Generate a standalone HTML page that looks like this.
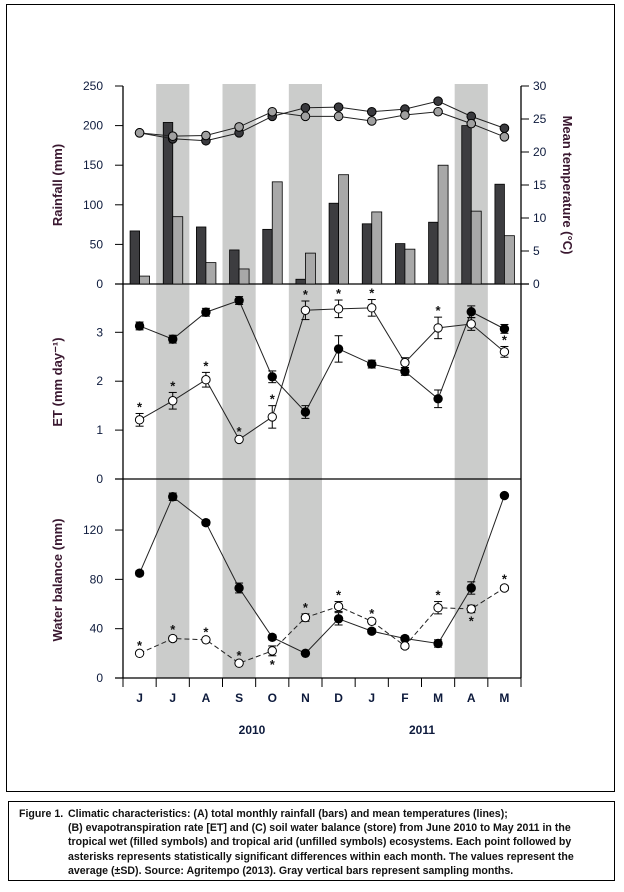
<!DOCTYPE html>
<html><head><meta charset="utf-8">
<style>
body{margin:0;background:#fff;width:624px;height:892px;overflow:hidden;font-family:"Liberation Sans Narrow","Liberation Sans",sans-serif;}
#frame{position:absolute;left:6px;top:4px;width:609px;height:788px;border:1.5px solid #000;box-sizing:border-box;}
#caption{position:absolute;left:8px;top:801px;width:607px;height:80px;border:1.5px solid #000;box-sizing:border-box;font-weight:bold;font-size:10.6px;line-height:14.2px;color:#111;padding:5px 6px 0 10px;}
#caption .lab{position:absolute;left:10px;top:5px;}
#caption .txt{margin-left:49px;}
svg{position:absolute;left:0;top:0;}
</style></head><body>
<div id="frame"></div>
<svg id="chart" width="624" height="892"></svg>
<div id="caption"><span class="lab">Figure 1.</span><div class="txt">Climatic characteristics: (A) total monthly rainfall (bars) and mean temperatures (lines);<br>(B) evapotranspiration rate [ET] and (C) soil water balance (store) from June 2010 to May 2011 in the tropical wet (filled symbols) and tropical arid (unfilled symbols) ecosystems. Each point followed by asterisks represents statistically significant differences within each month. The values represent the average (±SD). Source: Agritempo (2013). Gray vertical bars represent sampling months.</div></div>
<script>
const months=["J","J","A","S","O","N","D","J","F","M","A","M"];
const sampled=[1,3,5,10];
const rainWet=[67,204,72,43,69,6,102,76,51,78,200,126];
const rainArid=[10,85,27,19,129,39,138,91,44,150,92,61];
const tempWet=[22.9,22.0,21.7,22.9,25.4,26.7,26.8,26.1,26.5,27.7,25.4,23.6];
const tempArid=[22.9,22.4,22.5,23.8,26.1,25.4,25.4,24.7,25.6,26.1,24.3,22.3];
const etWet=[3.13,2.86,3.41,3.65,2.09,1.37,2.66,2.35,2.20,1.64,3.42,3.07];
const etWetSD=[0.08,0.08,0.08,0.08,0.12,0.13,0.27,0.08,0.08,0.18,0.12,0.09];
const etArid=[1.21,1.60,2.03,0.81,1.27,3.45,3.48,3.50,2.38,3.09,3.17,2.60];
const etAridSD=[0.13,0.17,0.15,0.03,0.23,0.19,0.18,0.17,0.10,0.22,0.13,0.11];
const etStar=[1,1,1,1,1,1,1,1,0,1,0,1];
const wbWet=[85,147,126,73,33,20,48,38,32,28,73,148];
const wbWetSD=[2,3,2,4,2,1,5,2,2,3,5,1];
const wbArid=[20,32,31,12,22,49,58,46,26,57,56,73];
const wbAridSD=[1,2,1,1,4,3,4,1,2,5,3,2];
const wbStar=[1,1,1,1,-1,1,1,1,0,1,-1,1];
const rainTicks=[0,50,100,150,200,250];
const tempTicks=[0,5,10,15,20,25,30];
const etTicks=[0,1,2,3];
const wbTicks=[0,40,80,120];
const years=["2010","2011"];

const NS="http://www.w3.org/2000/svg";
const svg=document.getElementById('chart');
const L=123,R=521,slot=(R-L)/12;
const xc=i=>L+slot*(i+0.5);
const yRain=v=>284-v*(198/250);
const yTemp=v=>284-v*(198/30);
const yET=v=>479-v*48.9;
const yWB=v=>678-v*1.233;
const TICKC="#0d1a3c", LABC="#3a1830";
function el(tag,a,p){const e=document.createElementNS(NS,tag);for(const k in a)e.setAttribute(k,a[k]);(p||svg).appendChild(e);return e;}
function txt(x,y,s,a){const e=el('text',Object.assign({x:x,y:y,'font-size':12,fill:TICKC,'font-family':'"Liberation Sans Narrow","Liberation Sans",sans-serif'},a||{}));e.textContent=s;return e;}

sampled.forEach(i=>{const r=el('rect',{x:L+slot*i,y:84,width:slot,height:594,fill:"#cbcccb"});

});

let a=el('line',{x1:L,y1:86,x2:L,y2:678,stroke:"#000","stroke-width":1.3});

a=el('line',{x1:R,y1:86,x2:R,y2:678,stroke:"#000","stroke-width":1.3});

[284,479,678].forEach(y=>{const s=el('line',{x1:115,y1:y,x2:R,y2:y,stroke:"#000","stroke-width":1.3});
});
el('line',{x1:R,y1:284,x2:529,y2:284,stroke:"#000","stroke-width":1.3});

rainTicks.forEach(v=>{el('line',{x1:115,y1:yRain(v),x2:L,y2:yRain(v),stroke:"#000"});
const t=txt(103,yRain(v)+4,String(v),{'text-anchor':'end'});});
tempTicks.forEach(v=>{el('line',{x1:R,y1:yTemp(v),x2:529,y2:yTemp(v),stroke:"#000"});
const t=txt(533,yTemp(v)+4,String(v));});
etTicks.forEach(v=>{el('line',{x1:115,y1:yET(v),x2:L,y2:yET(v),stroke:"#000"});
const t=txt(103,yET(v)+4,String(v),{'text-anchor':'end'});});
wbTicks.forEach(v=>{el('line',{x1:115,y1:yWB(v),x2:L,y2:yWB(v),stroke:"#000"});
const t=txt(103,yWB(v)+4,String(v),{'text-anchor':'end'});});
for(let i=0;i<=12;i++)el('line',{x1:L+slot*i,y1:678,x2:L+slot*i,y2:687,stroke:"#000"});
months.forEach((m,i)=>{const t=txt(xc(i),702,m,{'text-anchor':'middle','font-weight':'bold'});
});
const yearX=[252,422];
years.forEach((y,k)=>{const t=txt(yearX[k],734,y,{'text-anchor':'middle','font-weight':'bold'});
});

function vt(x,y,s,rot,name){const t=txt(x,y,s,{'text-anchor':'middle','font-weight':'bold','font-size':13,fill:LABC,transform:`rotate(${rot} ${x} ${y})`});
}
vt(62,185,"Rainfall (mm)",-90,'rainfall-axis-title');
vt(563,185,"Mean temperature (°C)",90,'temperature-axis-title');
vt(62,382,"ET (mm day⁻¹)",-90,'et-axis-title');
vt(62,580,"Water balance (mm)",-90,'water-balance-axis-title');

rainWet.forEach((v,i)=>{const b=el('rect',{x:xc(i)-9.5,y:yRain(v),width:9.5,height:284-yRain(v),fill:"#3d3d40",stroke:"#000","stroke-width":0.8});
});
rainArid.forEach((v,i)=>{const b=el('rect',{x:xc(i),y:yRain(v),width:10,height:284-yRain(v),fill:"#a8a8a8",stroke:"#000","stroke-width":0.8});
});

function series(vals,yf,fill,dash,sd,name,r){
 const pts=vals.map((v,i)=>xc(i)+","+yf(v)).join(" ");
 const pl=el('polyline',{points:pts,fill:"none",stroke:"#222","stroke-width":1,"stroke-dasharray":dash||"none"});
 
 vals.forEach((v,i)=>{
  if(sd){const y1=yf(v+sd[i]),y2=yf(v-sd[i]),x=xc(i);
   el('line',{x1:x,y1:y1,x2:x,y2:y2,stroke:"#000"});
   el('line',{x1:x-4,y1:y1,x2:x+4,y2:y1,stroke:"#000"});
   el('line',{x1:x-4,y1:y2,x2:x+4,y2:y2,stroke:"#000"});}
  const c=el('circle',{cx:xc(i),cy:yf(v),r:r||4.2,fill:fill,stroke:"#000","stroke-width":1});
  });
}
series(tempWet,yTemp,"#3a3a3e",null,null,'temp-wet',4.3);
series(tempArid,yTemp,"#a0a0a0",null,null,'temp-arid',4.3);
series(etWet,yET,"#000",null,etWetSD,'et-wet');
series(etArid,yET,"#fff",null,etAridSD,'et-arid');
series(wbWet,yWB,"#000",null,wbWetSD,'wb-wet');
series(wbArid,yWB,"#fff","5,3",wbAridSD,'wb-arid');

function star(x,y){const t=txt(x,y,"*",{'text-anchor':'middle','font-size':13,'font-weight':'bold',fill:"#111"});
}
etStar.forEach((s,i)=>{if(s)star(xc(i),yET(etArid[i]+etAridSD[i])-2);});
wbStar.forEach((s,i)=>{if(s>0)star(xc(i),yWB(wbArid[i]+wbAridSD[i])-2);else if(s<0)star(xc(i),yWB(wbArid[i]-wbAridSD[i])+13);});
</script>
</body></html>
